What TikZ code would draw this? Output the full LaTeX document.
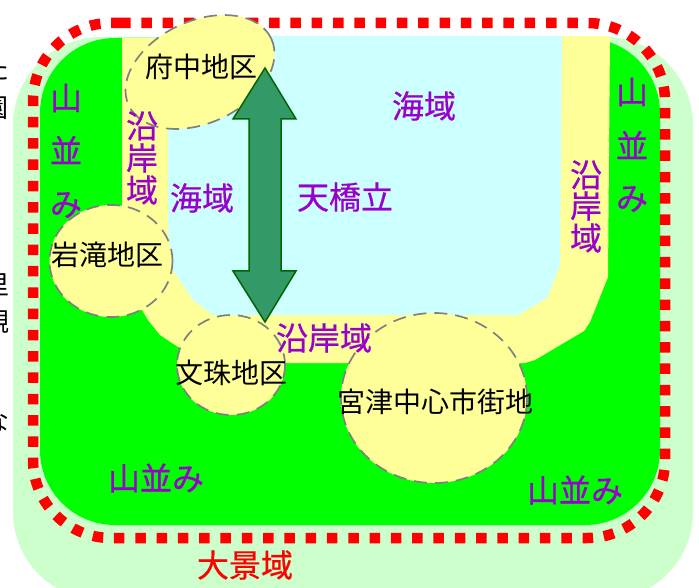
\documentclass[tikz,border=0pt]{standalone}
\usepackage{fontspec}
\setmainfont{Noto Sans CJK JP}
\newfontfamily\boldish[FakeBold=0.5]{Noto Sans CJK JP}
\definecolor{lgreen}{HTML}{CCFFCC}
\definecolor{mgreen}{HTML}{00FF00}
\definecolor{cyanbg}{HTML}{CCFFFF}
\definecolor{yel}{HTML}{FFFF99}
\definecolor{purp}{HTML}{9900CC}
\definecolor{sea}{HTML}{339966}
\definecolor{dgreen}{HTML}{006600}
\tikzset{
  dist/.style={draw=gray,fill=yel,line width=1.7pt,dash pattern=on 13pt off 8pt},
  blk/.style={font=\fontsize{28}{28}\selectfont,text=black,inner sep=0pt},
  pur/.style={font=\boldish\fontsize{32}{32}\selectfont,text=purp,inner sep=0pt},
  mar/.style={font=\fontsize{26}{26}\selectfont,text=black,inner sep=0pt},
}
\begin{document}
\begin{tikzpicture}[x=1pt,y=-1pt]
\useasboundingbox (0,0) rectangle (699,588);
\clip (0,0) rectangle (699,588);
\fill[white] (0,0) rectangle (699,588);
% clipped neighbouring text at the left edge
\node[mar,anchor=east] (m1) at (10,70) {た};
\node[mar,anchor=east] (m2) at (9,108) {園};
\node[mar,anchor=east] (m3) at (10,285) {里};
\node[mar,anchor=east] (m4) at (10,322) {観};
\node[mar,anchor=east] (m5) at (10,422) {な};
% backgrounds
\fill[lgreen,rounded corners=88pt] (13,37) rectangle (693,600);
\fill[mgreen,rounded corners=75pt] (40,38) rectangle (660,525);
\fill[yel] (122,38) -- (610,36) -- (608,277) -- (590,322) -- (584,331) -- (535,360) -- (525,363) -- (280,363) -- (178,347) -- (160,335) -- (148,320) -- (130,290) -- (122,205) -- cycle;
\fill[cyanbg] (168,36) -- (562,36) -- (560,265) -- (547,298) -- (518,315) -- (213,315) -- (193,300) -- (173,270) -- (168,230) -- cycle;
% dotted boundary
\draw[red,line width=10.5pt,dash pattern=on 10.5pt off 10.8pt,rounded corners=78pt] (120,23) -- (665,23) -- (665,538) -- (33,538) -- (33,23) -- (120,23);
% districts
\draw[dist,rotate around={25:(200,72)}] (200,72) ellipse [x radius=78.7,y radius=51];
\draw[dist] (111,261) ellipse [x radius=61.5,y radius=56];
\draw[dist] (231,365) ellipse [x radius=54,y radius=50];
\draw[dist] (434,398) ellipse [x radius=93,y radius=85];
% double arrow
\draw[draw=dgreen,fill=sea,line width=1.5pt,line join=miter] (265,68) -- (296,119) -- (281,119) -- (281,271) -- (296,271) -- (265,322) -- (233,271) -- (249,271) -- (249,119) -- (233,119) -- cycle;
% labels
\node[blk] (n1) at (201,67) {府中地区};
\node[blk] (n2) at (107,255) {岩滝地区};
\node[blk] (n3) at (231,373) {文珠地区};
\node[blk] (n4) at (435,402) {宮津中心市街地};
\node[pur] (a1) at (66,98) {山};
\node[pur] (a2) at (66,150) {並};
\node[pur] (a3) at (66,205) {み};
\node[pur] (b1) at (632,92) {山};
\node[pur] (b2) at (632,145) {並};
\node[pur] (b3) at (632,199) {み};
\node[pur] (c1) at (142,126) {沿};
\node[pur] (c2) at (142,158) {岸};
\node[pur] (c3) at (142,190) {域};
\node[pur] (d1) at (586,175) {沿};
\node[pur] (d2) at (586,206) {岸};
\node[pur] (d3) at (586,238) {域};
\node[pur] (s1) at (202,198) {海域};
\node[pur] (s2) at (424,106) {海域};
\node[pur] (t) at (345,197) {天橋立};
\node[pur] (e) at (324,338) {沿岸域};
\node[pur] (y1) at (156,478) {山並み};
\node[pur] (y2) at (575,490) {山並み};
\node[pur,text=red] (r) at (245,565) {大景域};
\end{tikzpicture}
\end{document}
